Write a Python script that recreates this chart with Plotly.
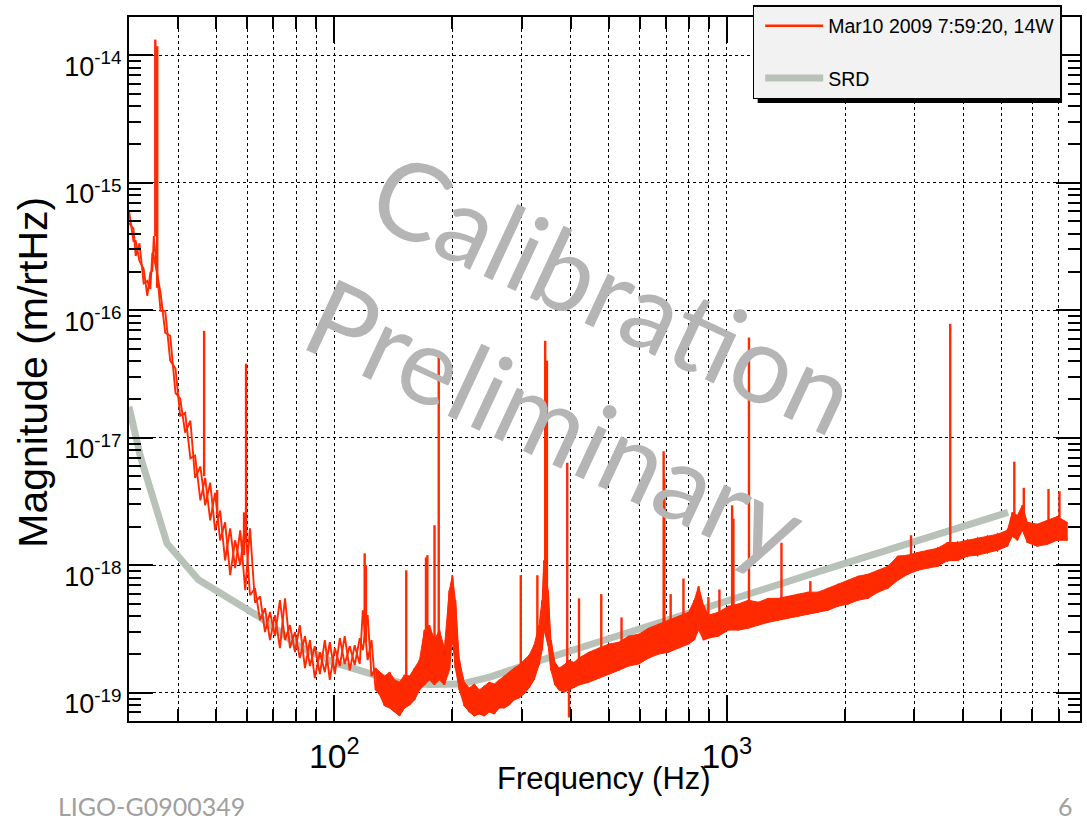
import math
import plotly.graph_objects as go

# ---------------- data ----------------
# SRD design curve
srd_freq = [30, 32.1, 37.5, 45.1, 64.7, 81.7, 100, 146.7, 175, 210, 250, 296, 500, 710, 1000, 1712, 3000, 5200]
srd_mag = [1.75e-17, 7.05e-18, 1.48e-18, 7.7e-19, 3.9e-19, 2.3e-19, 1.72e-19, 1.2e-19, 1.16e-19,
           1.17e-19, 1.33e-19, 1.59e-19, 2.65e-19, 3.7e-19, 5.24e-19, 8.9e-19, 1.53e-18, 2.6e-18]

# measured spectrum: noise band (upper / lower edge of the red trace)
band_freq = [30.0, 30.8, 31.2, 31.9, 32.7, 33.4, 34.0, 34.4, 34.7, 36.1, 37.1, 38.2, 39.4, 40.5, 41.7,
             43.0, 44.2, 45.6, 46.9, 48.3, 49.7, 51.2, 52.7, 54.3, 55.9, 57.6, 59.3, 61.0, 62.8, 64.7,
             66.6, 68.6, 70.6, 72.7, 74.9, 77.1, 79.4, 81.7, 84.2, 86.7, 89.2, 91.9, 94.6, 97.4, 100.3,
             103.3, 106.3, 109.5, 112.7, 116.1, 118.2, 121.6, 124.4, 127.4, 130.5, 134.3, 138.3, 142.4,
             146.6, 151.0, 155.5, 160.1, 164.8, 169.7, 174.7, 179.9, 185.2, 190.7, 196.4, 199.9, 203.4,
             208.2, 214.4, 220.7, 227.3, 234.0, 241.0, 248.1, 255.5, 263.0, 270.8, 278.9, 287.1, 295.7,
             304.4, 313.4, 322.7, 332.3, 338.4, 342.1, 350.2, 356.3, 364.8, 373.5, 384.6, 396.0, 407.7,
             419.9, 445.2, 472.0, 500.4, 530.5, 562.3, 596.2, 632.1, 670.1, 710.5, 753.2, 798.6, 826.0,
             846.7, 871.8, 897.5, 951.5, 1008.8, 1069.5, 1134, 1202, 1274, 1351, 1432, 1519, 1610, 1707,
             1809, 1919, 2034, 2157, 2286, 2424, 2570, 2724, 2888, 3062, 3246, 3441, 3649, 3868, 4101,
             4347, 4609, 4886, 5180, 5334, 5492, 5655, 5822, 6172, 6546, 6938, 7357]
band_high = [6.02e-16, 4.35e-16, 3.5e-16, 3.35e-16, 2.11e-16, 1.7e-16, 1.97e-16, 2.82e-16, 3.83e-16,
             1.37e-16, 9.9e-17, 6.32e-17, 3.49e-17, 2.03e-17, 1.57e-17, 1.36e-17, 7.26e-18, 5.95e-18,
             4.85e-18, 4.44e-18, 3.7e-18, 2.69e-18, 2.17e-18, 1.95e-18, 1.57e-18, 1.88e-18, 2.17e-18,
             1.95e-18, 6.6e-19, 5.7e-19, 4.6e-19, 4.3e-19, 4.06e-19, 5.32e-19, 5.5e-19, 3.39e-19,
             2.99e-19, 3.39e-19, 2.78e-19, 2.59e-19, 2.32e-19, 2.08e-19, 2.59e-19, 2.49e-19, 2.24e-19,
             2.68e-19, 2.78e-19, 2.32e-19, 2.36e-19, 2.68e-19, 4.44e-19, 4.06e-19, 2.59e-19, 1.56e-19,
             1.45e-19, 1.35e-19, 1.45e-19, 1.26e-19, 1.21e-19, 1.38e-19, 1.35e-19, 1.56e-19, 1.8e-19,
             3.1e-19, 3.39e-19, 2.59e-19, 3.1e-19, 2.24e-19, 6.37e-19, 8.35e-19, 5.32e-19, 1.8e-19,
             1.21e-19, 1.09e-19, 1.17e-19, 1.05e-19, 1.13e-19, 1.21e-19, 1.17e-19, 1.26e-19, 1.35e-19,
             1.45e-19, 1.56e-19, 1.65e-19, 1.8e-19, 1.97e-19, 2.36e-19, 3.39e-19, 5.32e-19, 1.09e-18,
             6.37e-19, 2.59e-19, 1.73e-19, 1.56e-19, 1.65e-19, 1.8e-19, 1.73e-19, 1.87e-19, 2.08e-19,
             2.24e-19, 2.41e-19, 2.49e-19, 2.78e-19, 2.88e-19, 3.21e-19, 3.45e-19, 3.71e-19, 3.98e-19,
             4.28e-19, 5.32e-19, 6.85e-19, 4.86e-19, 4.06e-19, 4.28e-19, 4.77e-19, 4.96e-19, 5.32e-19,
             5.13e-19, 5.5e-19, 5.5e-19, 5.7e-19, 5.94e-19, 6.15e-19, 6.15e-19, 6.6e-19, 7.1e-19,
             7.63e-19, 8.2e-19, 8.5e-19, 9.13e-19, 9.8e-19, 1.18e-18, 1.2e-18, 1.26e-18, 1.31e-18,
             1.36e-18, 1.51e-18, 1.51e-18, 1.57e-18, 1.63e-18, 1.69e-18, 1.75e-18, 1.88e-18, 2.6e-18,
             2.46e-18, 2.95e-18, 2.17e-18, 2.1e-18, 2.25e-18, 2.41e-18, 2.17e-18]
band_low = [4.84e-16, 3.5e-16, 2.67e-16, 2.44e-16, 1.63e-16, 1.3e-16, 1.47e-16, 2.04e-16, 2.67e-16,
            9.9e-17, 6.67e-17, 4.03e-17, 2.25e-17, 1.49e-17, 1.1e-17, 6.9e-18, 4.85e-18, 3.23e-18,
            2.95e-18, 2.25e-18, 1.88e-18, 1.57e-18, 1.09e-18, 8.35e-19, 9.5e-19, 1.0e-18, 6.37e-19,
            5.82e-19, 5.1e-19, 3.71e-19, 2.99e-19, 2.59e-19, 2.78e-19, 2.24e-19, 2.59e-19, 2.24e-19,
            2.08e-19, 1.87e-19, 1.56e-19, 1.62e-19, 1.3e-19, 1.4e-19, 1.45e-19, 1.26e-19, 1.4e-19,
            1.62e-19, 1.68e-19, 1.5e-19, 1.65e-19, 1.68e-19, 2.16e-19, 1.8e-19, 1.35e-19, 1.05e-19,
            9.6e-20, 7.87e-20, 7.59e-20, 7.06e-20, 6.57e-20, 7.59e-20, 8.0e-20, 8.77e-20, 1.05e-19,
            1.15e-19, 1.26e-19, 1.15e-19, 1.26e-19, 1.15e-19, 1.5e-19, 2.59e-19, 1.56e-19, 1.05e-19,
            7.87e-20, 7.06e-20, 6.57e-20, 6.81e-20, 6.57e-20, 7.06e-20, 6.81e-20, 7.59e-20, 7.59e-20,
            8.0e-20, 8.77e-20, 9.1e-20, 9.8e-20, 1.09e-19, 1.26e-19, 1.65e-19, 2.16e-19, 3.1e-19,
            2.36e-19, 1.5e-19, 1.15e-19, 1.05e-19, 1.01e-19, 1.05e-19, 1.09e-19, 1.15e-19, 1.21e-19,
            1.3e-19, 1.4e-19, 1.5e-19, 1.62e-19, 1.68e-19, 1.87e-19, 2.01e-19, 2.08e-19, 2.24e-19,
            2.41e-19, 2.59e-19, 3.1e-19, 2.59e-19, 2.68e-19, 2.78e-19, 3.1e-19, 3.1e-19, 3.21e-19,
            3.39e-19, 3.57e-19, 3.71e-19, 3.85e-19, 3.98e-19, 4.14e-19, 4.28e-19, 4.44e-19, 4.77e-19,
            4.96e-19, 5.32e-19, 5.5e-19, 6.15e-19, 6.6e-19, 7.63e-19, 8.5e-19, 9.13e-19, 9.5e-19,
            9.8e-19, 1.09e-18, 1.09e-18, 1.18e-18, 1.2e-18, 1.26e-18, 1.31e-18, 1.41e-18, 1.69e-18,
            1.57e-18, 1.88e-18, 1.51e-18, 1.41e-18, 1.46e-18, 1.57e-18, 1.57e-18]
# above this frequency the noise is so dense that the trace reads as a solid band
solid_from_hz = 127

# measured spectrum: narrow lines (frequency, foot, tip)
line_freq = [35.0, 35.4, 46.6, 50.3, 58.9, 59.6, 119.5, 120.4, 152.5, 171.2, 172.6, 180.0, 184.5,
             298.5, 329.0, 344.5, 348.0, 392.0, 396.0, 420.0, 478.6, 539.0, 690.0, 693.0, 719.0,
             775.0, 897.0, 957.0, 1031.0, 1039.0, 1138.0, 1377.0, 1631.0, 2944.0, 3705.0, 5395.0,
             5703.0, 6592.0, 7030.0]
line_base = [3.8e-16, 1.5e-16, 5.0e-18, 2.5e-18, 1.2e-18, 1.5e-18, 2.5e-19, 2.5e-19, 1.3e-19, 2.5e-19,
             2.5e-19, 2.5e-19, 2.5e-19, 1.6e-19, 2.3e-19, 8.0e-19, 4.0e-19, 1.6e-19, 1.6e-19, 1.8e-19,
             2.2e-19, 2.5e-19, 3.4e-19, 3.4e-19, 3.5e-19, 4.0e-19, 4.0e-19, 4.2e-19, 4.5e-19, 4.5e-19,
             5.0e-19, 5.4e-19, 6.1e-19, 1.1e-18, 1.4e-18, 2.2e-18, 2.0e-18, 2.0e-18, 2.0e-18]
line_peak = [1.33e-14, 1.18e-14, 6.9e-17, 3.9e-18, 2.6e-18, 3.81e-17, 1.24e-18, 1.0e-18, 9.13e-19,
             1.15e-18, 1.2e-18, 2.06e-18, 4.56e-17, 8.35e-19, 8.35e-19, 5.77e-17, 4.03e-17, 6.37e-18,
             6.4e-20, 5.5e-19, 5.94e-19, 3.9e-19, 7.84e-18, 4.8e-18, 5.94e-19, 7.87e-19, 5.63e-19,
             6.45e-19, 2.95e-18, 2.32e-18, 6.13e-17, 1.5e-18, 7.5e-19, 1.72e-18, 7.84e-17, 6.5e-18,
             4.05e-18, 3.96e-18, 3.8e-18]

# axes
x_range_hz = [30, 7930]
y_range = [6.0e-20, 2.0e-14]
y_tick_vals = [1e-19, 1e-18, 1e-17, 1e-16, 1e-15, 1e-14]
y_tick_text = ["10<sup>-19</sup>", "10<sup>-18</sup>", "10<sup>-17</sup>",
               "10<sup>-16</sup>", "10<sup>-15</sup>", "10<sup>-14</sup>"]
y_minor_vals = [m * 10.0 ** e for e in range(-20, -13) for m in range(2, 10)]

RED = "rgb(255,42,0)"
SRD_COL = "rgb(184,194,184)"
ROOTFONT = "Liberation Sans, Arial, sans-serif"
SLIDEFONT = "Lato, Open Sans, sans-serif"

# ---------------- build traces ----------------
# noise: two zigzags crossing between the upper and lower edges
zig_a = [hi if i % 2 == 0 else lo for i, (hi, lo) in enumerate(zip(band_high, band_low))]
zig_b = [lo if i % 2 == 0 else hi for i, (hi, lo) in enumerate(zip(band_high, band_low))]
noise_x = band_freq + [None] + band_freq
noise_y = zig_a + [None] + zig_b

# solid band where the noise is dense
solid = [i for i, f in enumerate(band_freq) if f >= solid_from_hz]
poly_x = [band_freq[i] for i in solid] + [band_freq[i] for i in solid[::-1]]
poly_y = [band_high[i] for i in solid] + [band_low[i] for i in solid[::-1]]

spike_x, spike_y = [], []
for f, b, p in zip(line_freq, line_base, line_peak):
    spike_x += [f, f, None]
    spike_y += [b, p, None]

fig = go.Figure()
fig.add_trace(go.Scatter(x=srd_freq, y=srd_mag, mode="lines", name="SRD",
                         line=dict(color=SRD_COL, width=7), legendrank=2, legendgroup="b"))
fig.add_trace(go.Scatter(x=poly_x, y=poly_y, mode="lines", fill="toself", fillcolor=RED,
                         line=dict(color=RED, width=1), showlegend=False, hoverinfo="skip"))
fig.add_trace(go.Scatter(x=noise_x, y=noise_y, mode="lines", line=dict(color=RED, width=1.9),
                         showlegend=False, hoverinfo="skip", connectgaps=False))
fig.add_trace(go.Scatter(x=spike_x, y=spike_y, mode="lines", name="Mar10 2009 7:59:20, 14W",
                         line=dict(color=RED, width=2.4), legendrank=1, legendgroup="a"))

W, H = 1087, 822
L, R, T, B = 129, 5, 16, 101
pw, ph = W - L - R, H - T - B


def px(x):
    return (x - L) / pw


def py(y):
    return (H - B - y) / ph


axis_common = dict(type="log", showline=True, linecolor="black", linewidth=2, mirror="allticks",
                   ticks="inside", tickcolor="black", tickwidth=1.5,
                   showgrid=True, gridcolor="black", griddash="dot",
                   gridwidth=1, zeroline=False)

fig.update_xaxes(**axis_common, range=[math.log10(x_range_hz[0]), math.log10(x_range_hz[1])],
                 dtick=1, exponentformat="power", ticklen=26, ticklabelstandoff=6,
                 tickfont=dict(family=ROOTFONT, size=27, color="black"),
                 minor=dict(dtick="D1", ticks="inside", ticklen=12, tickwidth=1.5, tickcolor="black",
                            showgrid=True, gridcolor="black", griddash="dot", gridwidth=1))
fig.update_yaxes(**axis_common, range=[math.log10(y_range[0]), math.log10(y_range[1])],
                 tickmode="array", tickvals=y_tick_vals, ticktext=y_tick_text,
                 ticklen=24, ticklabelstandoff=0, ticklabelshift=11,
                 tickfont=dict(family=ROOTFONT, size=27, color="black"),
                 minor=dict(tickmode="array", tickvals=y_minor_vals, ticks="inside", ticklen=12,
                            tickwidth=1.5, tickcolor="black", showgrid=False))

annotations = [
    dict(text="Calibration", x=px(616), y=py(290), textangle=25,
         font=dict(family=SLIDEFONT, size=108, color="rgb(181,181,181)")),
    dict(text="Preliminary", x=px(557), y=py(420), textangle=25,
         font=dict(family=SLIDEFONT, size=108, color="rgb(181,181,181)")),
    dict(text="Frequency (Hz)", x=px(605), y=py(779),
         font=dict(family=ROOTFONT, size=31, color="black")),
    dict(text="Magnitude (m/rtHz)", x=px(33), y=py(372), textangle=-90,
         font=dict(family=ROOTFONT, size=41, color="black")),
    dict(text="LIGO-G0900349", x=px(152), y=py(806),
         font=dict(family=SLIDEFONT, size=25, color="rgb(160,160,160)")),
    dict(text="6", x=px(1067), y=py(806),
         font=dict(family=SLIDEFONT, size=25, color="rgb(160,160,160)")),
]
for a in annotations:
    a.update(xref="paper", yref="paper", showarrow=False, xanchor="center", yanchor="middle")

fig.update_layout(
    width=W, height=H,
    margin=dict(l=L, r=R, t=T, b=B),
    paper_bgcolor="white", plot_bgcolor="white",
    annotations=annotations,
    showlegend=True,
    legend=dict(x=px(754), y=py(4), xanchor="left", yanchor="top",
                bgcolor="rgb(242,242,242)", bordercolor="black", borderwidth=1.5,
                font=dict(family=ROOTFONT, size=19.5, color="black"),
                itemwidth=58, indentation=6, traceorder="grouped", tracegroupgap=24),
    shapes=[dict(type="rect", xref="paper", yref="paper", x0=px(759), x1=px(1064),
                 y0=py(102), y1=py(9), fillcolor="black", line=dict(width=0), layer="above")],
)

fig.write_html("out.html", config={"displayModeBar": False},
               post_script="document.body.style.margin='0px';")
